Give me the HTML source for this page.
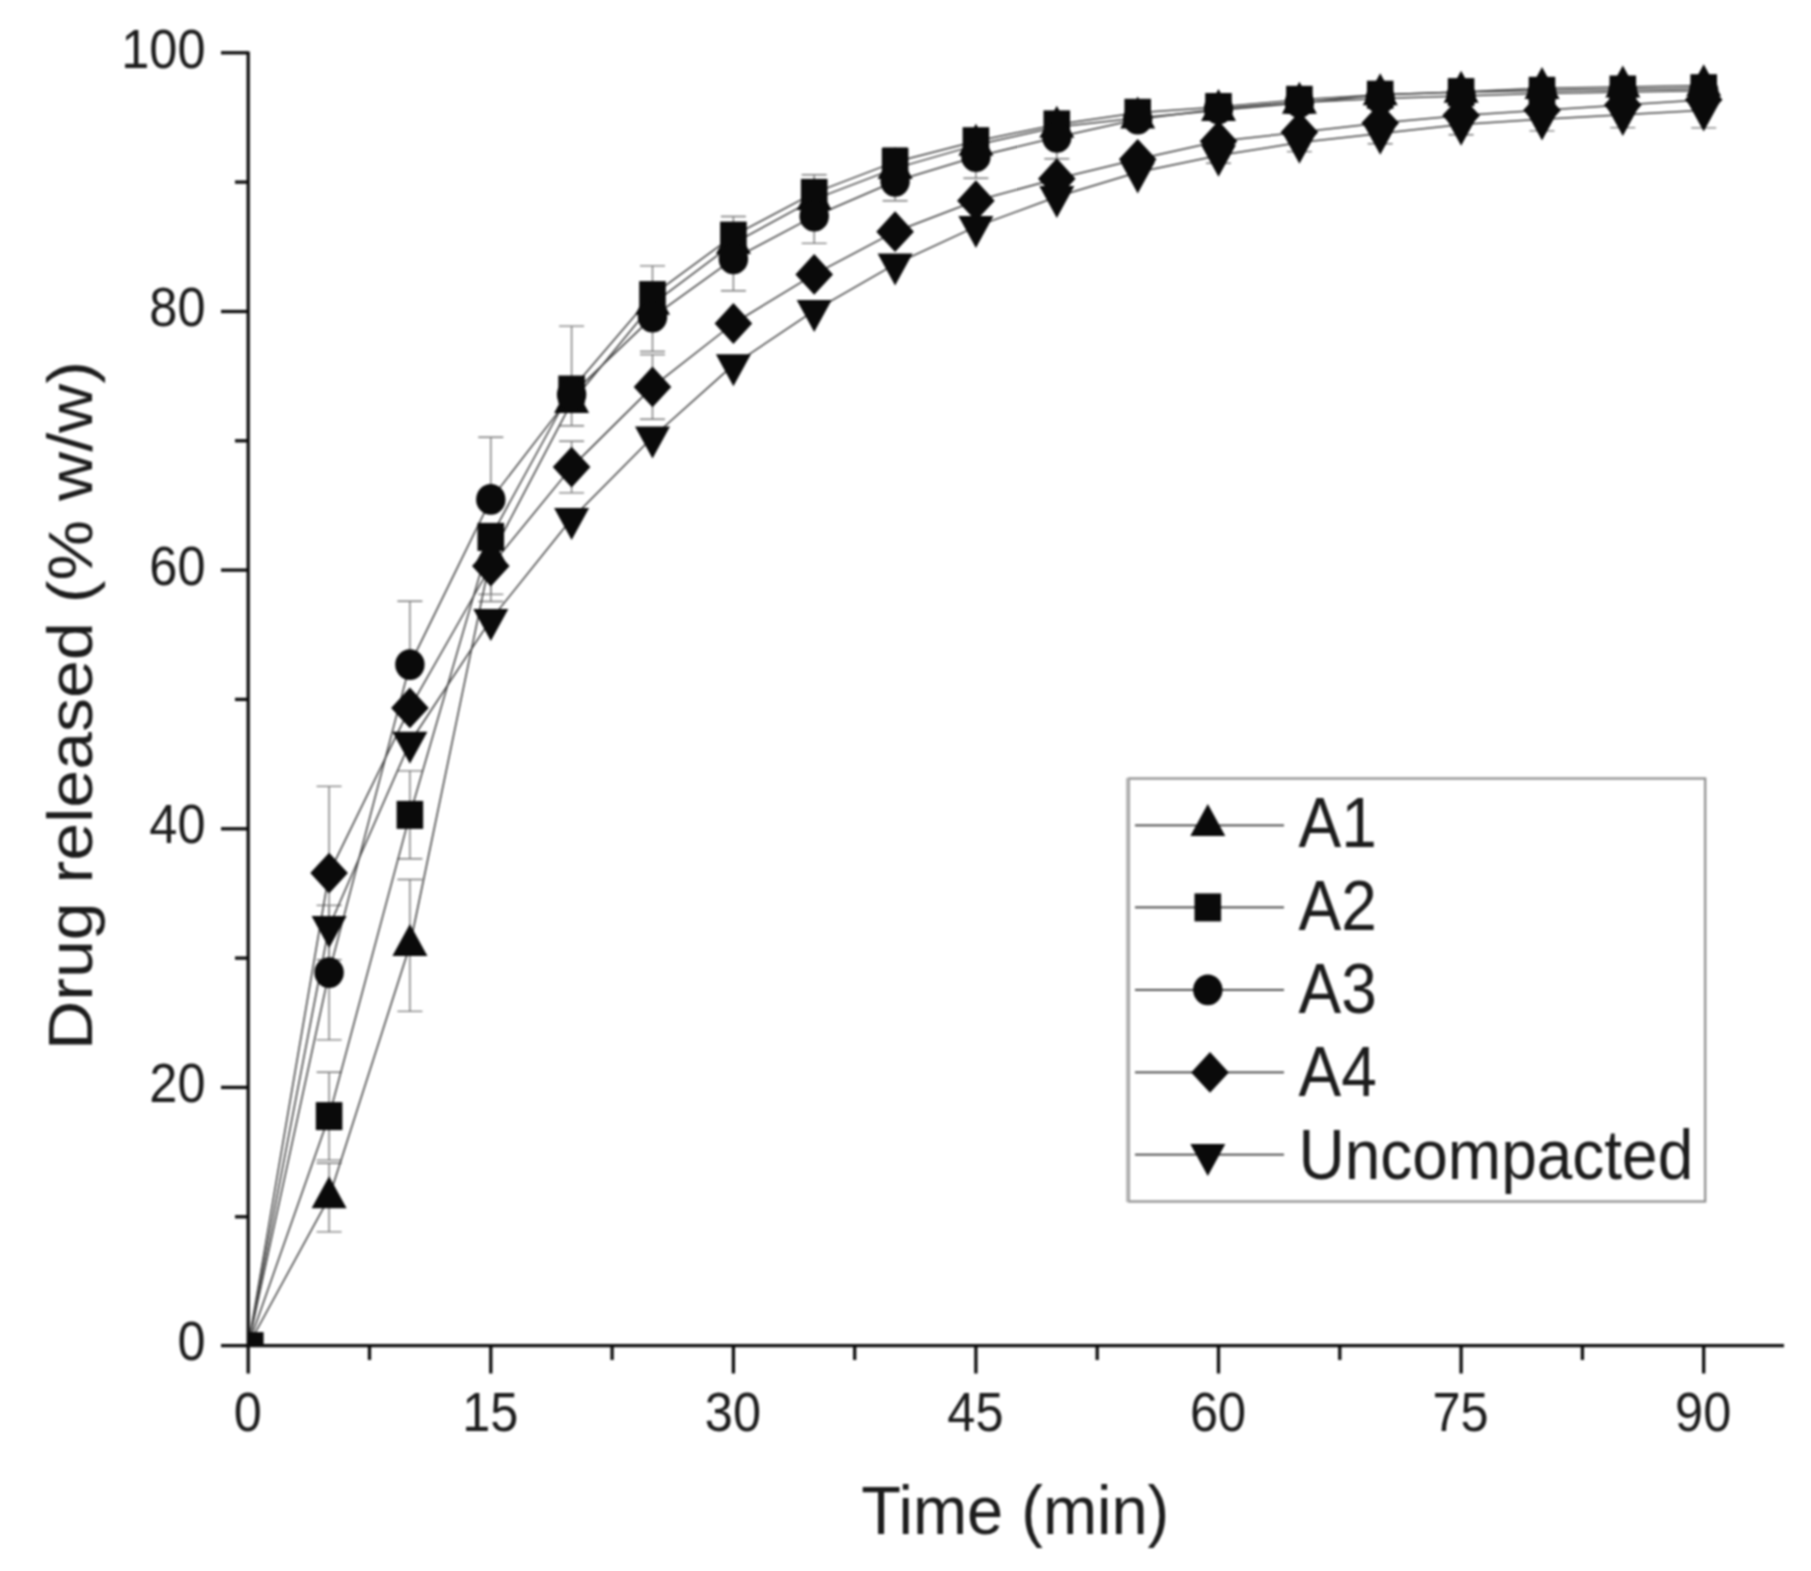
<!DOCTYPE html>
<html lang="en"><head><meta charset="utf-8"><title>Drug release profile</title>
<style>
html,body{margin:0;padding:0;background:#fff;}
body{width:1811px;height:1571px;overflow:hidden;}
svg{display:block;filter:blur(0.8px);}
text{font-family:"Liberation Sans",Arial,Helvetica,sans-serif;fill:#1c1c1c;}
.tick{font-size:50.5px;}
.lab{font-size:65px;}
.ylab{font-size:63.5px;}
.leg{font-size:64px;}
</style></head><body>
<svg width="1811" height="1571" viewBox="0 0 1811 1571">
<rect x="0" y="0" width="1811" height="1571" fill="#ffffff"/>

<g stroke="#7a7a7a" stroke-width="1.4" fill="none">
<path d="M329.1,1197.6V1163.3M316.6,1163.3H341.6M329.1,1197.6V1231.9M316.6,1231.9H341.6"/>
<path d="M409.9,945.5V879.5M397.4,879.5H422.4M409.9,945.5V1011.4M397.4,1011.4H422.4"/>
<path d="M490.8,556.3V601.5M478.3,601.5H503.3"/>
<path d="M571.6,402.4V425.7M559.1,425.7H584.1"/>
<path d="M329.1,1116.1V1072.2M316.6,1072.2H341.6M329.1,1116.1V1160.1M316.6,1160.1H341.6"/>
<path d="M409.9,814.9V770.9M397.4,770.9H422.4M409.9,814.9V858.8M397.4,858.8H422.4"/>
<path d="M571.6,389.5V326.1M559.1,326.1H584.1"/>
<path d="M652.5,295.1V265.9M640.0,265.9H665.0"/>
<path d="M733.4,235.6V216.5M720.9,216.5H745.9"/>
<path d="M814.2,192.9V174.8M801.7,174.8H826.7"/>
<path d="M895.1,161.9V147.7M882.6,147.7H907.6"/>
<path d="M329.1,972.6V905.4M316.6,905.4H341.6M329.1,972.6V1039.9M316.6,1039.9H341.6"/>
<path d="M409.9,664.6V601.3M397.4,601.3H422.4"/>
<path d="M490.8,499.4V437.3M478.3,437.3H503.3"/>
<path d="M652.5,317.1V351.5M640.0,351.5H665.0"/>
<path d="M733.4,258.9V290.7M720.9,290.7H745.9"/>
<path d="M814.2,216.2V243.4M801.7,243.4H826.7"/>
<path d="M895.1,181.3V200.7M882.6,200.7H907.6"/>
<path d="M975.9,156.7V178.2M963.4,178.2H988.4"/>
<path d="M1056.8,137.3V158.7M1044.3,158.7H1069.3"/>
<path d="M329.1,873.1V786.4M316.6,786.4H341.6M329.1,873.1V959.7M316.6,959.7H341.6"/>
<path d="M490.8,566.0V594.4M478.3,594.4H503.3"/>
<path d="M571.6,467.1V441.2M559.1,441.2H584.1M571.6,467.1V492.9M559.1,492.9H584.1"/>
<path d="M652.5,386.9V354.6M640.0,354.6H665.0M652.5,386.9V419.2M640.0,419.2H665.0"/>
<path d="M1218.5,155.4V163.2M1206.0,163.2H1231.0"/>
<path d="M1299.4,142.5V151.6M1286.9,151.6H1311.9"/>
<path d="M1380.2,133.5V143.8M1367.7,143.8H1392.7"/>
<path d="M1461.1,124.4V134.8M1448.6,134.8H1473.6"/>
<path d="M1542.0,119.2V130.9M1529.5,130.9H1554.5"/>
<path d="M1622.8,114.7V127.6M1610.3,127.6H1635.3"/>
<path d="M1703.7,110.2V127.9M1691.2,127.9H1716.2"/>
</g>
<g stroke="#404040" stroke-width="1.5" fill="none" stroke-linejoin="round">
<polyline points="248.2,1345.6 329.1,1197.6 409.9,945.5 490.8,556.3 571.6,402.4 652.5,304.1 733.4,243.4 814.2,199.4 895.1,168.4 975.9,145.1 1056.8,127.0 1137.7,117.9 1218.5,110.2 1299.4,103.1 1380.2,94.7 1461.1,92.1 1542.0,88.2 1622.8,86.9 1703.7,85.6"/>
<polyline points="248.2,1345.6 329.1,1116.1 409.9,814.9 490.8,536.9 571.6,389.5 652.5,295.1 733.4,235.6 814.2,192.9 895.1,161.9 975.9,141.2 1056.8,124.4 1137.7,112.8 1218.5,107.0 1299.4,99.8 1380.2,94.7 1461.1,92.1 1542.0,90.8 1622.8,89.5 1703.7,88.2"/>
<polyline points="248.2,1345.6 329.1,972.6 409.9,664.6 490.8,499.4 571.6,394.6 652.5,317.1 733.4,258.9 814.2,216.2 895.1,181.3 975.9,156.7 1056.8,137.3 1137.7,119.2 1218.5,108.9 1299.4,102.4 1380.2,98.5 1461.1,96.0 1542.0,93.4 1622.8,92.1 1703.7,90.8"/>
<polyline points="248.2,1345.6 329.1,873.1 409.9,707.9 490.8,566.0 571.6,467.1 652.5,386.9 733.4,323.5 814.2,274.4 895.1,231.7 975.9,200.7 1056.8,178.7 1137.7,159.3 1218.5,141.2 1299.4,132.2 1380.2,123.1 1461.1,115.4 1542.0,110.2 1622.8,105.0 1703.7,99.8"/>
<polyline points="248.2,1345.6 329.1,926.7 409.9,742.5 490.8,619.6 571.6,518.8 652.5,437.3 733.4,364.9 814.2,310.6 895.1,264.1 975.9,226.6 1056.8,196.8 1137.7,172.2 1218.5,155.4 1299.4,142.5 1380.2,133.5 1461.1,124.4 1542.0,119.2 1622.8,114.7 1703.7,110.2"/>
</g>
<g fill="#0a0a0a" stroke="none">
<polygon points="311.6,1208.3 346.6,1208.3 329.1,1176.3"/>
<polygon points="392.4,956.1 427.4,956.1 409.9,924.1"/>
<polygon points="473.3,566.9 508.3,566.9 490.8,534.9"/>
<polygon points="554.1,413.1 589.1,413.1 571.6,381.1"/>
<polygon points="635.0,314.8 670.0,314.8 652.5,282.8"/>
<polygon points="715.9,254.0 750.9,254.0 733.4,222.0"/>
<polygon points="796.7,210.1 831.7,210.1 814.2,178.1"/>
<polygon points="877.6,179.0 912.6,179.0 895.1,147.0"/>
<polygon points="958.4,155.8 993.4,155.8 975.9,123.8"/>
<polygon points="1039.3,137.7 1074.3,137.7 1056.8,105.7"/>
<polygon points="1120.2,128.6 1155.2,128.6 1137.7,96.6"/>
<polygon points="1201.0,120.9 1236.0,120.9 1218.5,88.9"/>
<polygon points="1281.9,113.7 1316.9,113.7 1299.4,81.7"/>
<polygon points="1362.7,105.3 1397.7,105.3 1380.2,73.3"/>
<polygon points="1443.6,102.7 1478.6,102.7 1461.1,70.7"/>
<polygon points="1524.5,98.9 1559.5,98.9 1542.0,66.9"/>
<polygon points="1605.3,97.6 1640.3,97.6 1622.8,65.6"/>
<polygon points="1686.2,96.3 1721.2,96.3 1703.7,64.3"/>
<rect x="315.8" y="1102.1" width="26.6" height="28.0"/>
<rect x="396.6" y="800.9" width="26.6" height="28.0"/>
<rect x="477.5" y="522.9" width="26.6" height="28.0"/>
<rect x="558.3" y="375.5" width="26.6" height="28.0"/>
<rect x="639.2" y="281.1" width="26.6" height="28.0"/>
<rect x="720.1" y="221.6" width="26.6" height="28.0"/>
<rect x="800.9" y="178.9" width="26.6" height="28.0"/>
<rect x="881.8" y="147.9" width="26.6" height="28.0"/>
<rect x="962.6" y="127.2" width="26.6" height="28.0"/>
<rect x="1043.5" y="110.4" width="26.6" height="28.0"/>
<rect x="1124.4" y="98.8" width="26.6" height="28.0"/>
<rect x="1205.2" y="93.0" width="26.6" height="28.0"/>
<rect x="1286.1" y="85.8" width="26.6" height="28.0"/>
<rect x="1366.9" y="80.7" width="26.6" height="28.0"/>
<rect x="1447.8" y="78.1" width="26.6" height="28.0"/>
<rect x="1528.7" y="76.8" width="26.6" height="28.0"/>
<rect x="1609.5" y="75.5" width="26.6" height="28.0"/>
<rect x="1690.4" y="74.2" width="26.6" height="28.0"/>
<ellipse cx="329.1" cy="972.6" rx="14.7" ry="15.4"/>
<ellipse cx="409.9" cy="664.6" rx="14.7" ry="15.4"/>
<ellipse cx="490.8" cy="499.4" rx="14.7" ry="15.4"/>
<ellipse cx="571.6" cy="394.6" rx="14.7" ry="15.4"/>
<ellipse cx="652.5" cy="317.1" rx="14.7" ry="15.4"/>
<ellipse cx="733.4" cy="258.9" rx="14.7" ry="15.4"/>
<ellipse cx="814.2" cy="216.2" rx="14.7" ry="15.4"/>
<ellipse cx="895.1" cy="181.3" rx="14.7" ry="15.4"/>
<ellipse cx="975.9" cy="156.7" rx="14.7" ry="15.4"/>
<ellipse cx="1056.8" cy="137.3" rx="14.7" ry="15.4"/>
<ellipse cx="1137.7" cy="119.2" rx="14.7" ry="15.4"/>
<ellipse cx="1218.5" cy="108.9" rx="14.7" ry="15.4"/>
<ellipse cx="1299.4" cy="102.4" rx="14.7" ry="15.4"/>
<ellipse cx="1380.2" cy="98.5" rx="14.7" ry="15.4"/>
<ellipse cx="1461.1" cy="96.0" rx="14.7" ry="15.4"/>
<ellipse cx="1542.0" cy="93.4" rx="14.7" ry="15.4"/>
<ellipse cx="1622.8" cy="92.1" rx="14.7" ry="15.4"/>
<ellipse cx="1703.7" cy="90.8" rx="14.7" ry="15.4"/>
<polygon points="310.3,873.1 329.1,852.7 347.9,873.1 329.1,893.5"/>
<polygon points="391.1,707.9 409.9,687.5 428.7,707.9 409.9,728.3"/>
<polygon points="472.0,566.0 490.8,545.6 509.6,566.0 490.8,586.4"/>
<polygon points="552.8,467.1 571.6,446.7 590.4,467.1 571.6,487.5"/>
<polygon points="633.7,386.9 652.5,366.5 671.3,386.9 652.5,407.3"/>
<polygon points="714.6,323.5 733.4,303.1 752.2,323.5 733.4,343.9"/>
<polygon points="795.4,274.4 814.2,254.0 833.0,274.4 814.2,294.8"/>
<polygon points="876.3,231.7 895.1,211.3 913.9,231.7 895.1,252.1"/>
<polygon points="957.1,200.7 975.9,180.3 994.7,200.7 975.9,221.1"/>
<polygon points="1038.0,178.7 1056.8,158.3 1075.6,178.7 1056.8,199.1"/>
<polygon points="1118.9,159.3 1137.7,138.9 1156.5,159.3 1137.7,179.7"/>
<polygon points="1199.7,141.2 1218.5,120.8 1237.3,141.2 1218.5,161.6"/>
<polygon points="1280.6,132.2 1299.4,111.8 1318.2,132.2 1299.4,152.6"/>
<polygon points="1361.4,123.1 1380.2,102.7 1399.0,123.1 1380.2,143.5"/>
<polygon points="1442.3,115.4 1461.1,95.0 1479.9,115.4 1461.1,135.8"/>
<polygon points="1523.2,110.2 1542.0,89.8 1560.8,110.2 1542.0,130.6"/>
<polygon points="1604.0,105.0 1622.8,84.6 1641.6,105.0 1622.8,125.4"/>
<polygon points="1684.9,99.8 1703.7,79.4 1722.5,99.8 1703.7,120.2"/>
<polygon points="311.6,916.0 346.6,916.0 329.1,948.0"/>
<polygon points="392.4,731.8 427.4,731.8 409.9,763.8"/>
<polygon points="473.3,609.0 508.3,609.0 490.8,641.0"/>
<polygon points="554.1,508.1 589.1,508.1 571.6,540.1"/>
<polygon points="635.0,426.6 670.0,426.6 652.5,458.6"/>
<polygon points="715.9,354.2 750.9,354.2 733.4,386.2"/>
<polygon points="796.7,299.9 831.7,299.9 814.2,331.9"/>
<polygon points="877.6,253.4 912.6,253.4 895.1,285.4"/>
<polygon points="958.4,215.9 993.4,215.9 975.9,247.9"/>
<polygon points="1039.3,186.1 1074.3,186.1 1056.8,218.1"/>
<polygon points="1120.2,161.6 1155.2,161.6 1137.7,193.6"/>
<polygon points="1201.0,144.8 1236.0,144.8 1218.5,176.8"/>
<polygon points="1281.9,131.8 1316.9,131.8 1299.4,163.8"/>
<polygon points="1362.7,122.8 1397.7,122.8 1380.2,154.8"/>
<polygon points="1443.6,113.7 1478.6,113.7 1461.1,145.7"/>
<polygon points="1524.5,108.6 1559.5,108.6 1542.0,140.6"/>
<polygon points="1605.3,104.0 1640.3,104.0 1622.8,136.0"/>
<polygon points="1686.2,99.5 1721.2,99.5 1703.7,131.5"/>
<rect x="248.2" y="1332.1" width="15.4" height="13.5"/>
</g>
<g stroke="#0c0c0c" stroke-width="3.3" fill="none" stroke-linecap="butt">
<path d="M248.2,51.4V1373.5"/>
<path d="M221,1345.6H1784"/>
<path d="M221,1087.4H248.2"/>
<path d="M221,828.8H248.2"/>
<path d="M221,570.1H248.2"/>
<path d="M221,311.5H248.2"/>
<path d="M221,52.8H248.2"/>
<path d="M235,1216.8H248.2"/>
<path d="M235,958.1H248.2"/>
<path d="M235,699.4H248.2"/>
<path d="M235,440.8H248.2"/>
<path d="M235,182.1H248.2"/>
<path d="M490.8,1345.6V1373.5"/>
<path d="M733.4,1345.6V1373.5"/>
<path d="M975.9,1345.6V1373.5"/>
<path d="M1218.5,1345.6V1373.5"/>
<path d="M1461.1,1345.6V1373.5"/>
<path d="M1703.7,1345.6V1373.5"/>
<path d="M369.5,1345.6V1360"/>
<path d="M612.1,1345.6V1360"/>
<path d="M854.7,1345.6V1360"/>
<path d="M1097.2,1345.6V1360"/>
<path d="M1339.8,1345.6V1360"/>
<path d="M1582.4,1345.6V1360"/>
</g>
<g class="tick" text-anchor="end">
<text class="tick" text-anchor="end" transform="translate(205.5,1360.2) scale(1,1.1)">0</text>
<text class="tick" text-anchor="end" transform="translate(205.5,1102.0) scale(1,1.1)">20</text>
<text class="tick" text-anchor="end" transform="translate(205.5,843.4) scale(1,1.1)">40</text>
<text class="tick" text-anchor="end" transform="translate(205.5,584.7) scale(1,1.1)">60</text>
<text class="tick" text-anchor="end" transform="translate(205.5,326.1) scale(1,1.1)">80</text>
<text class="tick" text-anchor="end" transform="translate(205.5,68.4) scale(1,1.1)">100</text>
</g>
<g class="tick" text-anchor="middle">
<text class="tick" text-anchor="middle" transform="translate(247.7,1431.3) scale(1,1.1)">0</text>
<text class="tick" text-anchor="middle" transform="translate(490.3,1431.3) scale(1,1.1)">15</text>
<text class="tick" text-anchor="middle" transform="translate(732.9,1431.3) scale(1,1.1)">30</text>
<text class="tick" text-anchor="middle" transform="translate(975.4,1431.3) scale(1,1.1)">45</text>
<text class="tick" text-anchor="middle" transform="translate(1218.0,1431.3) scale(1,1.1)">60</text>
<text class="tick" text-anchor="middle" transform="translate(1460.6,1431.3) scale(1,1.1)">75</text>
<text class="tick" text-anchor="middle" transform="translate(1703.2,1431.3) scale(1,1.1)">90</text>
</g>
<text class="lab" text-anchor="middle" transform="translate(1015.2,1534.0) scale(1,1.06)">Time (min)</text>
<text class="ylab" transform="translate(91.8,705.5) rotate(-90) scale(1.073,1)" text-anchor="middle">Drug released (% w/w)</text>
<rect x="1128.8" y="778.5" width="576.4" height="423" fill="#fff" stroke="#8c8c8c" stroke-width="2.2"/>
<path d="M1127.6,778V1202" stroke="#b4b4b4" stroke-width="3" fill="none"/>
<path d="M1135,825.4H1284" stroke="#383838" stroke-width="1.8"/>
<g fill="#0a0a0a"><polygon points="1190.3,836.1 1225.3,836.1 1207.8,804.1"/></g>
<text class="leg" text-anchor="start" transform="translate(1298.5,847.2) scale(1,1.095)">A1</text>
<path d="M1135,907.4H1284" stroke="#383838" stroke-width="1.8"/>
<g fill="#0a0a0a"><rect x="1194.5" y="893.4" width="26.6" height="28.0"/></g>
<text class="leg" text-anchor="start" transform="translate(1298.5,930.2) scale(1,1.095)">A2</text>
<path d="M1135,989.8H1284" stroke="#383838" stroke-width="1.8"/>
<g fill="#0a0a0a"><ellipse cx="1207.8" cy="989.8" rx="14.7" ry="15.4"/></g>
<text class="leg" text-anchor="start" transform="translate(1298.5,1012.9) scale(1,1.095)">A3</text>
<path d="M1135,1072.4H1284" stroke="#383838" stroke-width="1.8"/>
<g fill="#0a0a0a"><polygon points="1191.2,1072.4 1210.0,1052.0 1228.8,1072.4 1210.0,1092.8"/></g>
<text class="leg" text-anchor="start" transform="translate(1298.5,1095.5) scale(1,1.095)">A4</text>
<path d="M1135,1154.6H1284" stroke="#383838" stroke-width="1.8"/>
<g fill="#0a0a0a"><polygon points="1190.3,1143.9 1225.3,1143.9 1207.8,1175.9"/></g>
<text class="leg" text-anchor="start" transform="translate(1298.5,1179.4) scale(1,1.095)">Uncompacted</text>
</svg></body></html>
